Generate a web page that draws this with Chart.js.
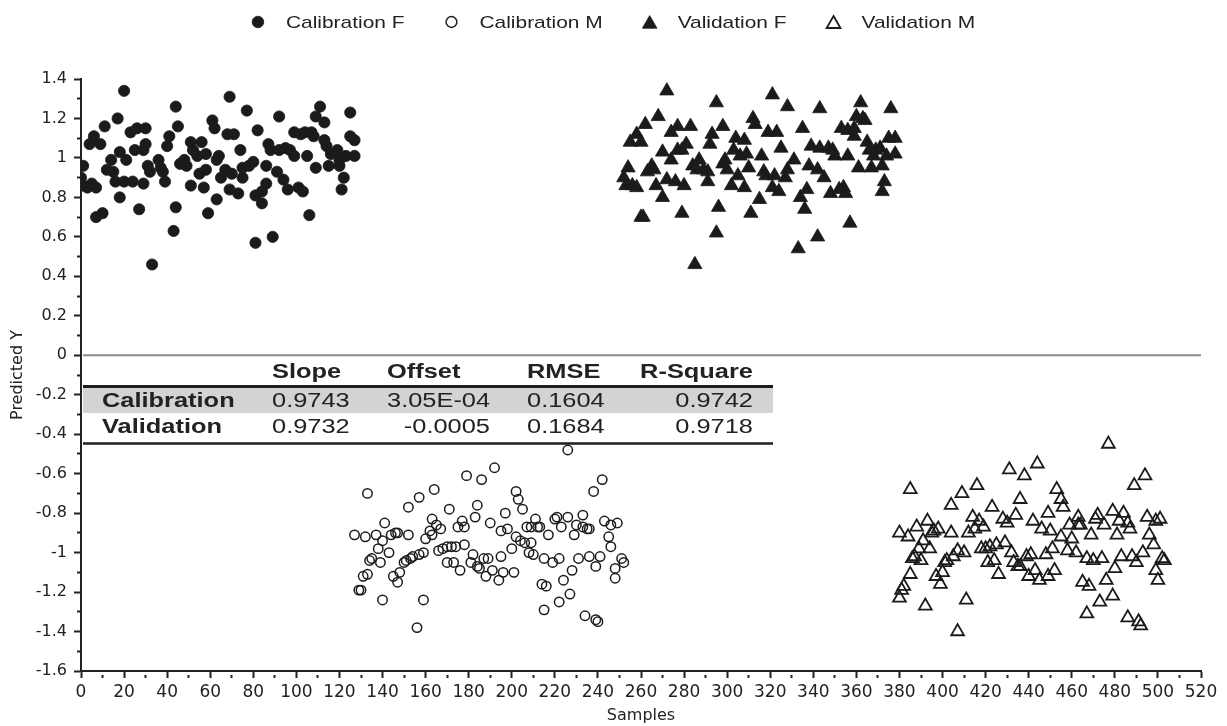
<!DOCTYPE html>
<html>
<head>
<meta charset="utf-8">
<script src="https://cdn.jsdelivr.net/npm/chart.js@4.4.1/dist/chart.umd.min.js"></script>
<style>
  html, body { margin: 0; padding: 0; background: #fff; }
  #wrap { width: 1227px; height: 726px; }
</style>
</head>
<body>
<div id="wrap"><canvas id="chart" width="1227" height="726"></canvas></div>
<script>
// values
const calFx = [0,1,1,3,4,6,5,7,7,10,9,11,12,14,15,16,17,18,18,20,20,21,24,23,25,26,27,29,29,30,30,31,32,33,36,37,38,39,40,41,43,44,44,45,46,48,49,51,51,52,54,55,56,57,58,58,59,61,62,63,64,63,65,67,68,69,69,71,70,73,74,75,75,77,78,80,81,81,82,84,84,86,87,88,86,89,91,92,92,94,95,96,97,99,99,101,102,103,104,105,106,107,108,109,109,111,113,113,114,115,116,119,120,120,121,122,123,125,125,127,127];
const calFy = [0.90,0.96,0.86,0.85,1.07,1.11,0.87,0.85,0.70,0.72,1.07,1.16,0.94,0.99,0.93,0.88,1.20,0.80,1.03,1.34,0.88,0.99,0.88,1.13,1.04,1.15,0.74,1.04,0.87,1.15,1.07,0.96,0.93,0.46,0.99,0.95,0.93,0.88,1.06,1.11,0.63,1.26,0.75,1.16,0.97,0.99,0.96,0.86,1.08,1.04,1.01,0.92,1.08,0.85,1.02,0.94,0.72,1.19,1.15,0.79,1.01,0.99,0.90,0.94,1.12,1.31,0.84,1.12,0.92,0.82,1.04,0.90,0.95,1.24,0.96,0.98,0.57,0.81,1.14,0.83,0.77,0.87,1.07,1.04,0.96,0.60,0.93,1.21,1.04,0.89,1.05,0.84,1.04,1.01,1.13,0.85,1.12,0.83,1.13,1.01,0.71,1.13,1.11,1.21,0.95,1.26,1.18,1.09,1.06,0.96,1.02,1.04,0.96,0.99,0.84,0.90,1.01,1.23,1.11,1.09,1.01];

const calMx = [127,129,130,131,133,132,133,134,135,137,138,139,140,140,141,143,144,145,146,147,147,148,150,151,152,152,153,154,156,157,157,159,159,160,162,163,163,164,165,166,167,168,170,170,171,172,173,174,175,176,177,178,178,179,181,182,183,184,184,185,186,187,188,189,190,191,192,194,195,195,196,197,198,200,201,202,202,203,204,205,206,207,208,209,209,210,211,212,213,214,215,215,216,217,219,220,221,222,222,223,224,226,226,227,228,229,230,231,233,233,234,235,236,236,238,239,239,240,241,242,243,245,246,246,248,248,249,251,252];
const calMy = [-0.91,-1.19,-1.19,-1.12,-1.11,-0.92,-0.70,-1.04,-1.03,-0.91,-0.98,-1.05,-0.94,-1.24,-0.85,-1.00,-0.91,-1.12,-0.90,-0.90,-1.15,-1.10,-1.05,-1.04,-0.91,-0.77,-1.03,-1.02,-1.38,-1.01,-0.72,-1.00,-1.24,-0.93,-0.89,-0.83,-0.91,-0.68,-0.86,-0.99,-0.88,-0.98,-1.05,-0.97,-0.78,-0.97,-1.05,-0.97,-0.87,-1.09,-0.84,-0.96,-0.87,-0.61,-1.05,-1.01,-0.82,-1.07,-0.76,-1.08,-0.63,-1.03,-1.12,-1.03,-0.85,-1.09,-0.57,-1.14,-0.89,-1.02,-1.10,-0.80,-0.88,-0.98,-1.10,-0.69,-0.92,-0.73,-0.94,-0.78,-0.95,-0.87,-1.00,-0.95,-0.87,-1.01,-0.83,-0.87,-0.87,-1.16,-1.29,-1.03,-1.17,-0.91,-1.05,-0.83,-0.82,-1.25,-1.03,-0.87,-1.14,-0.48,-0.82,-1.21,-1.09,-0.91,-0.86,-1.03,-0.81,-0.87,-1.32,-0.88,-0.88,-1.02,-0.69,-1.07,-1.34,-1.35,-1.02,-0.63,-0.84,-0.92,-0.97,-0.86,-1.08,-1.13,-0.85,-1.03,-1.05];

const valFx = [272,268,262,258,255,260,254,252,253,256,258,265,266,263,267,270,272,270,274,274,277,283,277,279,281,276,280,260,261,279,285,284,287,286,289,291,291,292,293,295,298,295,296,299,300,298,302,303,304,305,306,308,308,309,310,311,312,313,315,316,317,318,319,321,321,322,323,324,325,327,328,328,331,333,334,335,336,337,338,339,342,342,343,343,345,347,348,349,350,352,353,354,355,356,356,357,359,359,360,361,362,363,364,365,366,367,368,369,371,372,372,373,374,375,376,378,378];
const valFy = [1.34,1.21,1.17,1.12,1.08,1.08,0.95,0.90,0.86,0.86,0.85,0.96,0.94,0.93,0.86,0.80,0.89,1.03,0.99,1.13,1.16,1.16,1.04,1.04,1.07,0.88,0.86,0.70,0.70,0.72,0.46,0.96,0.99,0.94,0.94,0.88,0.93,1.07,1.12,1.28,1.16,0.62,0.75,0.99,0.94,0.97,0.86,1.04,1.10,0.91,1.01,1.09,0.85,1.02,0.95,0.72,1.20,1.17,0.79,1.01,0.93,0.91,1.13,1.32,0.85,0.91,1.13,0.83,1.05,0.90,1.26,0.94,0.99,0.54,0.80,1.15,0.74,0.84,0.96,1.06,0.60,0.94,1.25,1.05,0.90,1.05,0.82,1.04,1.01,0.84,1.15,0.85,0.82,1.14,1.01,0.67,1.15,1.11,1.21,0.95,1.28,1.20,1.19,1.08,1.04,0.95,1.01,1.04,1.05,0.96,0.83,0.88,1.01,1.10,1.25,1.10,1.02];

const valMx = [477,380,380,381,382,384,385,385,386,387,388,389,390,391,392,393,394,395,396,397,398,399,400,401,402,404,404,405,407,407,409,410,411,412,414,415,416,417,418,419,420,421,422,423,424,425,426,428,429,430,431,432,433,434,435,436,436,438,439,440,441,442,443,444,445,446,448,449,449,450,451,452,453,455,455,456,458,459,460,462,463,463,464,465,467,467,468,469,470,471,472,473,474,475,476,479,479,480,481,482,483,484,486,486,487,488,489,490,491,492,493,494,495,496,498,499,499,500,501,502,503];
const valMy = [-0.45,-0.90,-1.23,-1.19,-1.17,-0.92,-1.11,-0.68,-1.03,-1.02,-0.87,-0.98,-1.04,-0.94,-1.27,-0.84,-0.98,-0.90,-0.89,-1.12,-0.88,-1.16,-1.10,-1.05,-1.04,-0.90,-0.76,-1.02,-1.40,-0.99,-0.70,-1.00,-1.24,-0.90,-0.82,-0.88,-0.66,-0.84,-0.98,-0.87,-0.98,-1.05,-0.97,-0.77,-1.04,-0.96,-1.11,-0.83,-0.95,-0.85,-0.58,-1.00,-1.05,-0.81,-1.07,-0.73,-1.07,-0.61,-1.02,-1.12,-1.01,-0.84,-1.09,-0.55,-1.14,-0.88,-1.01,-1.12,-0.80,-0.89,-0.98,-1.09,-0.68,-0.73,-0.92,-0.77,-0.99,-0.86,-0.93,-1.00,-0.86,-0.82,-0.86,-1.15,-1.03,-1.31,-1.17,-0.91,-1.04,-0.83,-0.81,-1.25,-1.03,-0.86,-1.14,-0.79,-1.22,-1.08,-0.91,-0.84,-1.02,-0.80,-0.85,-1.33,-0.88,-1.02,-0.66,-1.05,-1.35,-1.37,-1.00,-0.61,-0.82,-0.91,-0.96,-0.84,-1.09,-1.14,-0.83,-1.03,-1.04];

const seriesNames = ["Calibration F", "Calibration M", "Validation F", "Validation M"];

// statistics table
const tableHeaders = ["Slope", "Offset", "RMSE", "R-Square"];
const tableRowNames = ["Calibration", "Validation"];
const tableValues = [
    ["0.9743", "3.05E-04", "0.1604", "0.9742"],
    ["0.9732", "-0.0005", "0.1684", "0.9718"],
];

const INK = "#222";
const FONT = "'DejaVu Sans', sans-serif";

function pairs(xs, ys) {
    return xs.map((x, i) => ({ x: x, y: ys[i] }));
}

// draw text stretched horizontally like the original artwork
function wideText(ctx, text, x, y, align, sx) {
    const w = ctx.measureText(text).width * sx;
    let left = x;
    if (align === "right") left = x - w;
    else if (align === "center") left = x - w / 2;
    ctx.save();
    ctx.translate(left, y);
    ctx.scale(sx, 1);
    ctx.textAlign = "left";
    ctx.fillText(text, 0, 0);
    ctx.restore();
}

function drawMarker(ctx, ds, cx, cy, r) {
    ctx.save();
    ctx.lineWidth = ds.pointBorderWidth;
    ctx.strokeStyle = ds.pointBorderColor;
    ctx.fillStyle = ds.pointBackgroundColor;
    ctx.beginPath();
    if (ds.pointStyle === "triangle") {
        ctx.moveTo(cx, cy - r);
        ctx.lineTo(cx + r * 0.866, cy + r * 0.5);
        ctx.lineTo(cx - r * 0.866, cy + r * 0.5);
        ctx.closePath();
    } else {
        ctx.arc(cx, cy, r, 0, Math.PI * 2);
    }
    ctx.fill();
    ctx.stroke();
    ctx.restore();
}

const legendPlugin = {
    id: "topLegend",
    afterDraw(chart) {
        const ctx = chart.ctx;
        const sx = 1.23;
        const markR = [5.8, 5.4, 8.4, 8];
        const markDy = [0, 0, 2, 2];
        ctx.save();
        ctx.font = "17px 'Liberation Sans', Arial, sans-serif";
        ctx.fillStyle = INK;
        ctx.textBaseline = "middle";
        const widths = chart.data.datasets.map(ds => ctx.measureText(ds.label).width * sx);
        const total = widths.reduce((a, w) => a + 28 + w, 0) + 47 * (widths.length - 1);
        let x = chart.width / 2 - total / 2 + 3;
        const y = 22;
        chart.data.datasets.forEach((ds, i) => {
            drawMarker(ctx, ds, x, y + markDy[i], markR[i]);
            ctx.fillStyle = INK;
            wideText(ctx, ds.label, x + 28, y + 1, "left", sx);
            x += 28 + widths[i] + 47;
        });
        ctx.restore();
    }
};

const zeroLinePlugin = {
    id: "zeroLine",
    beforeDatasetsDraw(chart) {
        const { ctx, chartArea, scales } = chart;
        const y0 = scales.y.getPixelForValue(0);
        ctx.save();
        ctx.strokeStyle = "#8c8c8c";
        ctx.lineWidth = 2;
        ctx.beginPath();
        ctx.moveTo(chartArea.left + 2, y0);
        ctx.lineTo(chartArea.right, y0);
        ctx.stroke();
        ctx.restore();
    }
};

const tablePlugin = {
    id: "statsTable",
    afterDatasetsDraw(chart) {
        const ctx = chart.ctx;
        const left = 83, right = 773;
        const headY = 372, rowY = [401, 427];
        const colX = [272, 387, 527, 753];
        const colAlign = ["left", "left", "left", "right"];
        const valAlign = [["left", "left"], ["left", "right"], ["left", "left"], ["right", "right"]];
        const offsetRight = 490;
        const sx = 1.27;
        ctx.save();
        // shaded calibration row
        ctx.fillStyle = "#d3d3d3";
        ctx.fillRect(left, 388, right - left, 25);
        ctx.strokeStyle = "#1e1e1e";
        ctx.lineWidth = 3;
        ctx.beginPath();
        ctx.moveTo(left, 386.5);
        ctx.lineTo(right, 386.5);
        ctx.stroke();
        ctx.lineWidth = 2.5;
        ctx.beginPath();
        ctx.moveTo(left, 443.5);
        ctx.lineTo(right, 443.5);
        ctx.stroke();

        ctx.fillStyle = INK;
        ctx.textBaseline = "middle";
        ctx.font = "bold 20px 'Liberation Sans', Arial, sans-serif";
        tableHeaders.forEach((h, j) => {
            wideText(ctx, h, colX[j], headY, colAlign[j], sx);
        });
        tableRowNames.forEach((r, i) => {
            wideText(ctx, r, 102, rowY[i], "left", sx);
        });
        ctx.font = "20px 'Liberation Sans', Arial, sans-serif";
        tableValues.forEach((row, i) => {
            row.forEach((v, j) => {
                const al = valAlign[j][i];
                let x = colX[j];
                if (j === 1 && al === "right") x = offsetRight;
                wideText(ctx, v, x, rowY[i], al, sx);
            });
        });
        ctx.restore();
    }
};

// minor ticks: only the inner part of the tick is drawn so they look shorter
function tickDash(c) {
    return c.tick && c.tick.label === "" ? [4, 20] : [];
}
function tickDashOffset(c) {
    return c.tick && c.tick.label === "" ? 21 : 0;
}

const ctx = document.getElementById("chart").getContext("2d");

new Chart(ctx, {
    type: "scatter",
    data: {
        datasets: [
            {
                label: seriesNames[0],
                data: pairs(calFx, calFy),
                pointStyle: "circle",
                pointRadius: 5.6,
                pointBackgroundColor: "#1b1b1b",
                pointBorderColor: "#1b1b1b",
                pointBorderWidth: 0.8,
            },
            {
                label: seriesNames[1],
                data: pairs(calMx, calMy),
                pointStyle: "circle",
                pointRadius: 4.7,
                pointBackgroundColor: "rgba(0,0,0,0)",
                pointBorderColor: "#1b1b1b",
                pointBorderWidth: 1.5,
            },
            {
                label: seriesNames[2],
                data: pairs(valFx, valFy),
                pointStyle: "triangle",
                pointRadius: 8.2,
                pointBackgroundColor: "#1b1b1b",
                pointBorderColor: "#1b1b1b",
                pointBorderWidth: 0.8,
            },
            {
                label: seriesNames[3],
                data: pairs(valMx, valMy),
                pointStyle: "triangle",
                pointRadius: 7.4,
                pointBackgroundColor: "rgba(0,0,0,0)",
                pointBorderColor: "#1b1b1b",
                pointBorderWidth: 1.8,
            },
        ]
    },
    options: {
        responsive: false,
        animation: false,
        devicePixelRatio: 1,
        layout: { padding: { top: 79, right: 26, left: 0, bottom: 0 } },
        plugins: {
            legend: { display: false },
            tooltip: { enabled: false },
        },
        scales: {
            x: {
                type: "linear",
                min: 0,
                max: 520,
                afterFit: (scale) => { scale.height = 55; },
                border: { color: INK, width: 2 },
                grid: {
                    drawOnChartArea: false, drawTicks: true, tickLength: 7, tickColor: INK, tickWidth: 2,
                    tickBorderDash: tickDash, tickBorderDashOffset: tickDashOffset,
                },
                ticks: {
                    stepSize: 10,
                    autoSkip: false,
                    maxRotation: 0,
                    padding: 4,
                    color: INK,
                    font: { family: FONT, size: 17 },
                    callback: (v) => (v % 20 === 0 ? String(v) : ""),
                },
                title: {
                    display: true,
                    text: "Samples",
                    color: INK,
                    font: { family: FONT, size: 16 },
                    padding: { top: 0, bottom: 1 },
                },
            },
            y: {
                type: "linear",
                min: -1.6,
                max: 1.4,
                afterFit: (scale) => { scale.width = 81; },
                border: { color: INK, width: 2 },
                grid: {
                    drawOnChartArea: false, drawTicks: true, tickLength: 7, tickColor: INK, tickWidth: 2,
                    tickBorderDash: tickDash, tickBorderDashOffset: tickDashOffset,
                },
                ticks: {
                    stepSize: 0.1,
                    autoSkip: false,
                    padding: 7,
                    color: INK,
                    font: { family: FONT, size: 16 },
                    callback: (v) => {
                        const k = Math.round(v * 10);
                        return k % 2 === 0 ? String(k / 10) : "";
                    },
                },
                title: {
                    display: true,
                    text: "Predicted Y",
                    color: INK,
                    font: { family: FONT, size: 16 },
                    padding: { top: 8, bottom: 0 },
                },
            },
        },
    },
    plugins: [zeroLinePlugin, tablePlugin, legendPlugin],
});
</script>
</body>
</html>
